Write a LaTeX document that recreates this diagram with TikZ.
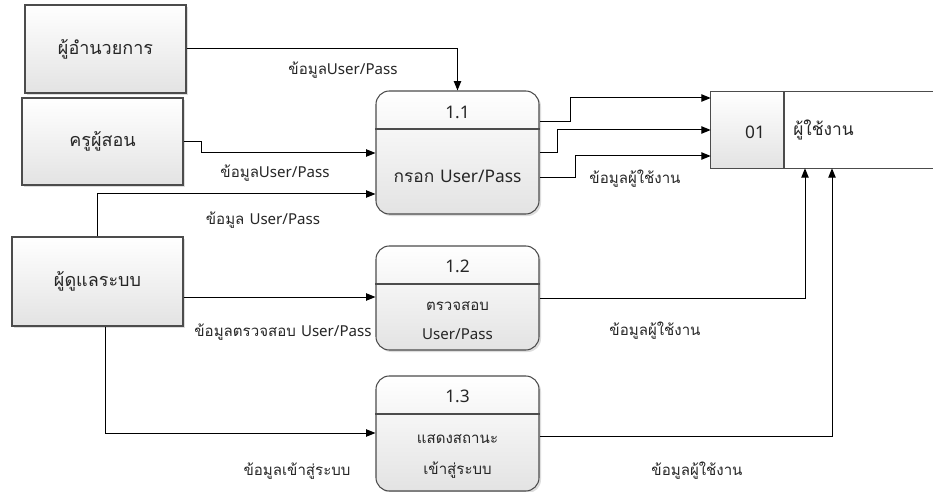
\documentclass[tikz,border=0pt]{standalone}
\usepackage{fontspec}
\setmainfont[Script=Thai]{Loma}
\newfontfamily\latfont{Noto Sans}
\newcommand{\lt}[1]{{\latfont #1}}
\usetikzlibrary{arrows.meta,shadows,calc}
\begin{document}
\begin{tikzpicture}[x=0.75pt,y=-0.75pt,
  boxshade/.style={top color=white,bottom color=black!11,shading angle=0},
  shad/.style={drop shadow={shadow xshift=1.5pt,shadow yshift=-1.5pt,fill=black!22,opacity=0.6}},
  entity/.style={draw=black!70,line width=0.8pt,boxshade,shad,inner sep=0pt,text=black!85,font=\fontsize{13.5}{16}\selectfont},
  proc/.style={draw=black!70,line width=0.8pt,rounded corners=10pt,boxshade,shad,inner sep=0pt,minimum width=163*0.75pt},
  flow/.style={line width=0.75pt,-{Triangle[length=7pt,width=5.5pt]}},
  lbl/.style={font=\fontsize{11.3}{13}\selectfont,inner sep=0pt,text=black!85},
  ptxt/.style={font=\fontsize{13}{15}\selectfont,inner sep=0pt,text=black!85},
  psm/.style={font=\fontsize{11.3}{13}\selectfont,inner sep=0pt,text=black!85}]
\useasboundingbox[fill=white] (0,0) rectangle (933,492);
% entities
\node[entity,minimum width=161*0.75pt,minimum height=88*0.75pt] (E1) at (105.5,49) {ผู้อำนวยการ};
\node[entity,minimum width=161*0.75pt,minimum height=87*0.75pt] (E2) at (102.5,141.5) {ครูผู้สอน};
\node[entity,minimum width=171*0.75pt,minimum height=89*0.75pt] (E3) at (97.5,281.5) {ผู้ดูแลระบบ};
% processes
\node[proc,minimum height=123*0.75pt] (P1) at (457.5,152.5) {};
\node[proc,minimum height=104*0.75pt] (P2) at (457.5,298) {};
\node[proc,minimum height=115*0.75pt] (P3) at (457.5,433.5) {};
\draw[draw=black!70,line width=0.8pt] (P1.west |- 0,129) -- (P1.east |- 0,129);
\draw[draw=black!70,line width=0.8pt] (P2.west |- 0,284) -- (P2.east |- 0,284);
\draw[draw=black!70,line width=0.8pt] (P3.west |- 0,414) -- (P3.east |- 0,414);
\node[ptxt] (t11) at (457.5,112) {\lt{1.1}};
\node[ptxt] (t11b) at (457.5,176) {กรอก \lt{User/Pass}};
\node[ptxt] (t12) at (457.5,266) {\lt{1.2}};
\node[psm] (t12b) at (457.5,306) {ตรวจสอบ};
\node[psm] (t12c) at (457.5,334) {\lt{User/Pass}};
\node[ptxt] (t13) at (457.5,396) {\lt{1.3}};
\node[psm] (t13b) at (457.5,439) {แสดงสถานะ};
\node[psm] (t13c) at (457.5,470) {เข้าสู่ระบบ};
% data store
\node[inner sep=0pt,minimum width=222*0.75pt,minimum height=76*0.75pt] (D) at (822,130) {};
\fill[white] (D.north west) rectangle (D.south east);
\shade[boxshade] (D.north west) rectangle (784,168);
\draw[draw=black!70,line width=0.8pt] (D.north east) -- (D.north west) -- (D.south west) -- (D.south east);
\draw[draw=black!70,line width=0.8pt] (784,92) -- (784,168);
\node[ptxt] (d01) at (755,132) {\lt{01}};
\node[ptxt,anchor=west] (dname) at (793,130) {ผู้ใช้งาน};
% flows
\draw[flow] (E1.east) -| (P1.north);
\draw[flow] (E2.east) -| (201,153) -- (P1.west |- 0,153);
\draw[flow] (E3.north) |- (P1.west |- 0,194);
\draw[flow] (E3.east |- 0,297) -- (P2.west |- 0,297);
\draw[flow] (E3.south -| 105,0) |- (P3.west |- 0,433);
\draw[flow] (P1.east |- 0,122) -| (570,98) -- (D.west |- 0,98);
\draw[flow] (P1.east |- 0,153) -| (557,130) -- (D.west |- 0,130);
\draw[flow] (P1.east |- 0,178) -| (575,156) -- (D.west |- 0,156);
\draw[flow] (P2.east |- 0,298) -| (D.south -| 805,0);
\draw[flow] (P3.east |- 0,436) -| (D.south -| 832,0);
% labels
\node[lbl] (l1) at (343,70) {ข้อมูล\lt{User/Pass}};
\node[lbl] (l2) at (275,173) {ข้อมูล\lt{User/Pass}};
\node[lbl] (l3) at (263,220) {ข้อมูล \lt{User/Pass}};
\node[lbl] (l4) at (283,332) {ข้อมูลตรวจสอบ \lt{User/Pass}};
\node[lbl] (l5) at (297,471) {ข้อมูลเข้าสู่ระบบ};
\node[lbl] (l6) at (635,179) {ข้อมูลผู้ใช้งาน};
\node[lbl] (l7) at (655,331) {ข้อมูลผู้ใช้งาน};
\node[lbl] (l8) at (697,471) {ข้อมูลผู้ใช้งาน};
\end{tikzpicture}
\end{document}
